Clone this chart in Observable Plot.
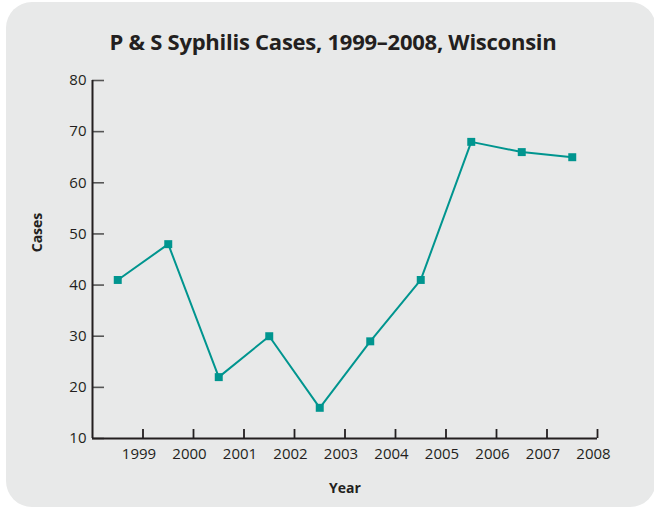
<!DOCTYPE html>
<html>
<head>
<meta charset="utf-8">
<script src="https://cdn.jsdelivr.net/npm/d3@7"></script>
<script src="https://cdn.jsdelivr.net/npm/@observablehq/plot@0.6"></script>
<style>
  html, body { margin: 0; padding: 0; background: #ffffff; }
  #wrap { position: relative; width: 654px; height: 508px; overflow: hidden; }
  #bg { position: absolute; left: 6px; top: 2px; width: 650px; height: 505px; background: #e8e9e9; border-radius: 26px; }
  #title { position: absolute; left: 0; top: 26px; width: 666px; text-align: center; font-family: "Open Sans", sans-serif; font-weight: 700; font-size: 22px; color: #231f20; letter-spacing: -0.25px; }
  #chart { position: absolute; left: 0; top: 0; }
</style>
</head>
<body>
<div id="wrap">
  <div id="bg"></div>
  <div id="title">P &amp; S Syphilis Cases, 1999–2008, Wisconsin</div>
  <div id="chart"></div>
</div>
<script>
const years = [1999, 2000, 2001, 2002, 2003, 2004, 2005, 2006, 2007, 2008];
const cases = [41, 48, 22, 30, 16, 29, 41, 68, 66, 65];
const yTicks = [10, 20, 30, 40, 50, 60, 70, 80];
const xBoundaries = [1999.5, 2000.5, 2001.5, 2002.5, 2003.5, 2004.5, 2005.5, 2006.5, 2007.5, 2008.5];
const yearLabels = years.map(String);

const data = years.map((y, i) => ({year: y, cases: cases[i]}));
const ink = "#231f20";
const teal = "#00958f";
const font = "'Open Sans', sans-serif";

const chart = Plot.plot({
  width: 654,
  height: 508,
  marginLeft: 92,
  marginRight: 57,
  marginTop: 80,
  marginBottom: 70,
  style: {background: "transparent", fontFamily: font, fontSize: "15px", color: ink, overflow: "visible"},
  x: {domain: [1998.5, 2008.5], axis: null},
  y: {domain: [10, 80], axis: null},
  marks: [
    // y ticks pointing inward
    Plot.axisY({ticks: yTicks, tickSize: 12, dx: 12, text: null, label: null, stroke: "#555", strokeWidth: 1.6}),
    // y tick labels
    Plot.axisY({ticks: yTicks, tickSize: 0, tickPadding: 6, tickFormat: d => String(d), fill: ink, fontSize: 15, label: null}),
    // x ticks pointing up at year boundaries
    Plot.axisX({ticks: xBoundaries, tickSize: 9, dy: -9, text: null, label: null, stroke: ink, strokeWidth: 1.8}),
    // x labels
    Plot.text(years, {x: d => d + 0.42, y: 10, text: (d, i) => yearLabels[i], dy: 16, lineAnchor: "middle", fill: ink, fontSize: 15}),
    // axis lines
    Plot.ruleX([1998.5], {stroke: ink, strokeWidth: 2}),
    Plot.ruleY([10], {stroke: ink, strokeWidth: 2}),
    // axis titles
    Plot.text(["Cases"], {frameAnchor: "left", textAnchor: "middle", dx: -55, dy: -27, rotate: -90, fontWeight: 700, fontSize: 14, fill: ink}),
    Plot.text(["Year"], {frameAnchor: "bottom", dy: 54, fontWeight: 700, fontSize: 14, fill: ink}),
    // data
    Plot.line(data, {x: "year", y: "cases", stroke: teal, strokeWidth: 2}),
    Plot.dot(data, {x: "year", y: "cases", symbol: "square", r: 4.5, fill: teal, stroke: "none"})
  ]
});
document.getElementById("chart").appendChild(chart);
</script>
</body>
</html>
